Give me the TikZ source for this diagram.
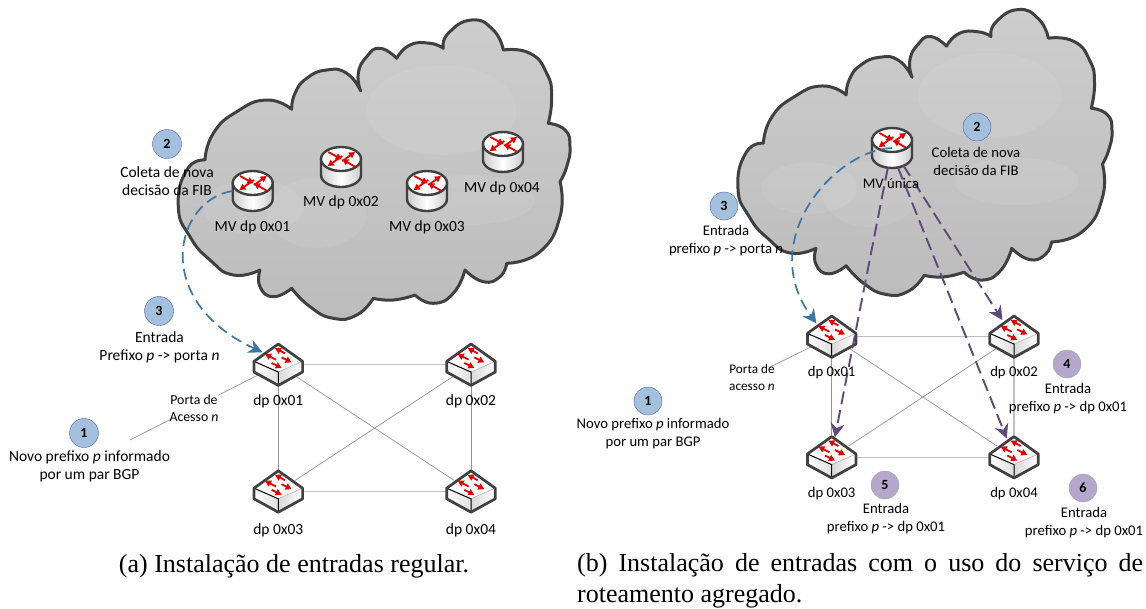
\documentclass[tikz,border=0pt]{standalone}
\usepackage{fontspec}
\setmainfont{Carlito}
\newfontfamily\capfont{Liberation Serif}
\usetikzlibrary{arrows.meta}

\definecolor{devdark}{HTML}{404040}
\definecolor{cloudtop}{HTML}{CDCDCD}
\definecolor{cloudbottom}{HTML}{BCBCBC}
\definecolor{bluedash}{HTML}{3C76A6}
\definecolor{purpledash}{HTML}{5F497A}
\definecolor{bluefill}{HTML}{A3C0DC}
\definecolor{purplefill}{HTML}{B4A7CB}

\newcommand{\cloudoutline}{
    plot[smooth, tension=.9] coordinates {(291.7,109.3) (295,93.3) (306.7,78.3) (326.7,70) (346.7,73.3) (360.7,91)}
    -- plot[smooth, tension=.9] coordinates {(360.7,91) (358.3,73.3) (366.7,56.7) (380,48.3) (396.7,58.3)}
    -- plot[smooth, tension=.9] coordinates {(396.7,58.3) (410,45) (430,43.3) (443.3,48.3)}
    -- plot[smooth, tension=.9] coordinates {(443.3,48.3) (448.3,33.3) (471.7,20) (493.3,30) (503.3,50)}
    -- plot[smooth, tension=.9] coordinates {(503.3,50) (530,53.3) (546.7,73.3) (551.7,96.7) (548.3,123.3)}
    -- plot[smooth, tension=.9] coordinates {(548.3,123.3) (565,130) (570,146.7) (566.7,166.7) (560,181.7)}
    -- plot[smooth, tension=.9] coordinates {(560,181.7) (560,216.7) (540,251.7) (506.7,263.3)}
    -- plot[smooth, tension=.9] coordinates {(506.7,263.3) (500,276.7) (483.3,281.7) (465,270)}
    -- plot[smooth, tension=.9] coordinates {(465,270) (453.3,293.3) (433.3,303.3) (415,295)}
    -- plot[smooth, tension=.9] coordinates {(415,295) (393.3,300) (373.3,298.3)}
    -- plot[smooth, tension=.9] coordinates {(373.3,298.3) (356.7,315) (333.3,318.3) (310,306.7) (291.7,288.3)}
    -- plot[smooth, tension=.9] coordinates {(291.7,288.3) (273.3,296.7) (260,286.7) (260,270)}
    -- plot[smooth, tension=.9] coordinates {(260,270) (233.3,275) (210,260) (190,236.7) (178.3,206.7) (186.7,170) (205,160)}
    -- plot[smooth, tension=.9] coordinates {(205,160) (213.3,133.3) (236.7,111.7) (266.7,100) (291.7,109.3)}
    -- cycle
}
\newcommand{\cloudpatches}{
    \fill[white, opacity=.07] (441.7,110) ellipse[x radius=75, y radius=45];
    \fill[white, opacity=.07] (253,207) ellipse[x radius=50, y radius=27];
    \fill[white, opacity=.07] (317,213) ellipse[x radius=50, y radius=35];
    \fill[white, opacity=.07] (470,200) ellipse[x radius=65, y radius=25];
}

\tikzset{
    cloudline/.style={draw=devdark, line width=3pt, line join=round, top color=cloudtop, bottom color=cloudbottom},
    routerbox/.style={circle, minimum size=40pt, inner sep=0pt},
    switchbox/.style={circle, minimum size=40pt, inner sep=0pt},
    linkthin/.style={draw=gray!85, line width=.7pt},
    linkthick/.style={draw=gray!50, line width=1.4pt},
    bluepath/.style={draw=bluedash, line width=1.7pt, dash pattern=on 11pt off 6pt, -{Stealth[length=14pt, width=14pt]}},
    purplepath/.style={draw=purpledash, line width=1.9pt, dash pattern=on 13pt off 6pt, -{Stealth[length=14pt, width=14pt]}},
    badgeblue/.style={circle, draw=gray!70!blue, fill=bluefill, minimum size=29pt, inner sep=0pt, font=\fontsize{14}{16}\selectfont\bfseries},
    badgepurple/.style={circle, draw=gray!70, fill=purplefill, minimum size=28pt, inner sep=0pt, font=\fontsize{14}{16}\selectfont\bfseries},
    lbl/.style={align=center, inner sep=0pt, font=\fontsize{15.5}{18}\selectfont},
    lblb/.style={align=center, inner sep=0pt, font=\fontsize{14.7}{18}\selectfont},
    smalllbl/.style={align=center, inner sep=0pt, font=\fontsize{13.8}{17}\selectfont},
    smalllblb/.style={align=center, inner sep=0pt, font=\fontsize{13.2}{17}\selectfont},
    caplbl/.style={inner sep=0pt, font=\fontsize{26}{31}\selectfont\capfont},
    redarrow/.style={draw=red!90!black, line width=1.8pt, -{Triangle[length=6pt, width=6.5pt]}},
    router/.pic={
        \draw[devdark, line width=2.4pt, left color=gray!40, right color=gray!40, middle color=white]
            (-20,-8) -- (-20,8) arc[start angle=180, end angle=0, x radius=20, y radius=12] -- (20,-8) -- cycle;
        \draw[devdark, line width=2.4pt, fill=white] (0,-8) ellipse[x radius=20, y radius=12];
        \draw[redarrow] (-12.7,-15) -- (0.7,-7.7);
        \draw[redarrow] (1.3,-6) -- (14,-15);
        \draw[redarrow] (1.3,-11) -- (-13.3,-1);
        \draw[redarrow] (14,-0.3) -- (1.3,-7.7);
    },
    switch/.pic={
        \fill[white] (0,-20.7) -- (24.3,-3.3) -- (0,7.3) -- (-24.3,-3.3) -- cycle;
        \fill[left color=white, right color=gray!25] (-24.3,-3.3) -- (0,7.3) -- (0,20.7) -- (-24.3,7.3) -- cycle;
        \fill[left color=gray!30, right color=white] (0,7.3) -- (24.3,-3.3) -- (24.3,7.3) -- (0,20.7) -- cycle;
        \draw[gray!45, line width=.7pt] (0,7.3) -- (24.3,-3.3);
        \draw[black, line width=1pt] (-24.3,-3.3) -- (0,7.3) -- (0,20.7);
        \draw[devdark, line width=2.7pt, line join=round] (0,-20.7) -- (24.3,-3.3) -- (24.3,7.3) -- (0,20.7) -- (-24.3,7.3) -- (-24.3,-3.3) -- cycle;
        \draw[redarrow] (6.7,-11.3) -- (-3.3,-16.7);
        \draw[redarrow] (-2.3,-5) -- (-13.3,-10.7);
        \draw[redarrow] (3.3,-7.3) -- (13.3,-2.3);
        \draw[redarrow] (-6.7,-1.7) -- (3.3,3.3);
    },
}

\begin{document}
\begin{tikzpicture}[x=1pt, y=-1pt]
    \useasboundingbox (0,0) rectangle (1146,608);

    % left picture
    \draw[cloudline] \cloudoutline;
    \cloudpatches

    \node[routerbox] (ma1) at (252.7,191) {};
    \node[routerbox] (ma2) at (341,167) {};
    \node[routerbox] (ma3) at (427,191) {};
    \node[routerbox] (ma4) at (503,152) {};
    \pic at (ma1) {router};
    \pic at (ma2) {router};
    \pic at (ma3) {router};
    \pic at (ma4) {router};

    \node[switchbox] (a1) at (278.3,364.7) {};
    \node[switchbox] (a2) at (471,364.7) {};
    \node[switchbox] (a3) at (278.3,491.5) {};
    \node[switchbox] (a4) at (471,491.5) {};
    \coordinate (afree) at (130,440);

    \draw[linkthick] (a1) -- (a2);
    \draw[linkthin] (a1) -- (a3);
    \draw[linkthin] (a2) -- (a4);
    \draw[linkthick] (a3) -- (a4);
    \draw[linkthin] (a1) -- (a4);
    \draw[linkthin] (a2) -- (a3);
    \draw[linkthin] (afree) -- (a1);

    \pic at (a1) {switch};
    \pic at (a2) {switch};
    \pic at (a3) {switch};
    \pic at (a4) {switch};

    \draw[bluepath] (ma1.west) .. controls (175,200) and (150,300) .. (a1.142);

    \node[lbl] (la1) at (252.5,227) {MV dp 0x01};
    \node[lbl] (la2) at (341,202) {MV dp 0x02};
    \node[lbl] (la3) at (427,227) {MV dp 0x03};
    \node[lbl] (la4) at (502,188) {MV dp 0x04};
    \node[lbl] (da1) at (278.3,401) {dp 0x01};
    \node[lbl] (da2) at (471,401) {dp 0x02};
    \node[lbl] (da3) at (278.3,530) {dp 0x03};
    \node[lbl] (da4) at (471,530) {dp 0x04};

    \node[badgeblue] (na2) at (167,144) {2};
    \node[badgeblue] (na3) at (159,311) {3};
    \node[badgeblue] (na1) at (84,433) {1};
    \node[lbl] (ta2) at (167,181) {Coleta de nova\\decisão da FIB};
    \node[lbl] (ta3) at (159.5,347.5) {Entrada\\Prefixo \textit{p} -> porta \textit{n}};
    \node[lbl] (ta1) at (89.5,466.5) {Novo prefixo \textit{p} informado\\por um par BGP};
    \node[smalllbl, fill=white] (pa) at (194,408.5) {Porta de\\Acesso \textit{n}};

    \node[caplbl] (capa) at (294,566) {(a) Instalação de entradas regular.};

    % right picture
    \begin{scope}[shift={(567.65,-9.55)}, scale=.955]
        \draw[cloudline] \cloudoutline;
        \cloudpatches
    \end{scope}

    \node[routerbox] (mb) at (892,148) {};
    \pic at (mb) {router};

    \node[switchbox] (b1) at (831.7,336.7) {};
    \node[switchbox] (b2) at (1014,336.7) {};
    \node[switchbox] (b3) at (831.7,457.3) {};
    \node[switchbox] (b4) at (1014,457.3) {};
    \coordinate (bfree) at (770,367);

    \draw[linkthick] (b1) -- (b2);
    \draw[linkthin] (b1) -- (b3);
    \draw[linkthick] (b2) -- (b4);
    \draw[linkthick] (b3) -- (b4);
    \draw[linkthin] (b1) -- (b4);
    \draw[linkthin] (b2) -- (b3);
    \draw[linkthin] (bfree) -- (b1);

    \pic at (b1) {switch};
    \pic at (b2) {switch};
    \pic at (b3) {switch};
    \pic at (b4) {switch};

    \draw[bluepath] (mb.center) .. controls (835,150) and (755,240) .. (b1.139);
    \draw[purplepath] (mb.258) -- (b3.81);
    \draw[purplepath] (mb.287) -- (b4.111);
    \draw[purplepath] (mb.303) -- (b2.125);

    \node[lblb] (lb) at (891,183) {MV única};
    \node[lblb] (db1) at (831.7,373) {dp 0x01};
    \node[lblb] (db2) at (1014,373) {dp 0x02};
    \node[lblb] (db3) at (831.7,494) {dp 0x03};
    \node[lblb] (db4) at (1014,494) {dp 0x04};

    \node[badgeblue, minimum size=28pt] (nb2) at (977,127) {2};
    \node[badgeblue, minimum size=28pt] (nb3) at (724,206) {3};
    \node[badgeblue, minimum size=28pt] (nb1) at (648,401) {1};
    \node[badgepurple] (nb4) at (1067,364) {4};
    \node[badgepurple] (nb5) at (885,485) {5};
    \node[badgepurple] (nb6) at (1083,488) {6};
    \node[lblb] (tb2) at (976,161) {Coleta de nova\\decisão da FIB};
    \node[lblb] (tb3) at (726,241) {Entrada\\prefixo \textit{p} -> porta \textit{n}};
    \node[lblb] (tb1) at (653,433.5) {Novo prefixo \textit{p} informado\\por um par BGP};
    \node[lblb] (tb4) at (1068,399) {Entrada\\prefixo \textit{p} -> dp 0x01};
    \node[lblb] (tb5) at (886,519) {Entrada\\prefixo \textit{p} -> dp 0x01};
    \node[lblb] (tb6) at (1084,522.5) {Entrada\\prefixo \textit{p} -> dp 0x01};
    \node[smalllblb] (pb) at (752,377.5) {Porta de\\acesso \textit{n}};

    \node[caplbl, text width=566pt, align=justify, anchor=north west] (capb) at (577,553.5) {(b) Instalação de entradas com o uso do serviço de roteamento agregado.};
\end{tikzpicture}
\end{document}
